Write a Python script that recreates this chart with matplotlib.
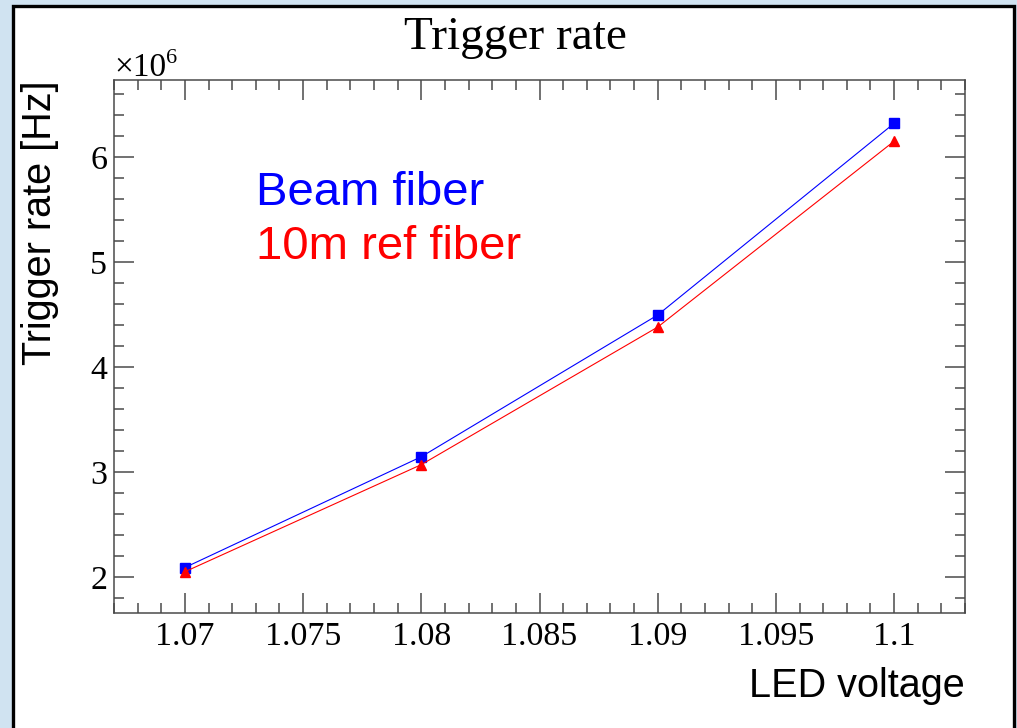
import numpy as np
import matplotlib.pyplot as plt
from matplotlib.patches import Rectangle
from matplotlib.ticker import MultipleLocator, FuncFormatter

# LED voltage scan, trigger rates
led_voltage = [1.07, 1.08, 1.09, 1.10]
beam_rate = [2.09e6, 3.145e6, 4.495e6, 6.32e6]
ref_rate = [2.05e6, 3.07e6, 4.38e6, 6.15e6]

SERIF = 'Liberation Serif'
SANS = 'Liberation Sans'

fig = plt.figure(figsize=(10.17, 7.28), dpi=100)
fig.patch.set_facecolor('#d0e3f1')

# white canvas with black frame (ROOT style)
W, H = 1017, 728
frame = Rectangle((12.5 / W, -0.05), (1014 - 12.5) / W, 1.05 - 6.5 / H,
                  transform=fig.transFigure, facecolor='white',
                  edgecolor='black', linewidth=2.4, zorder=-10)
fig.patches.append(frame)

ax = fig.add_axes([114 / W, 1 - 613 / H, (965 - 114) / W, (613 - 80) / H])
ax.set_facecolor('white')

ax.plot(led_voltage, beam_rate, color='blue', lw=0.8, marker='s', ms=7.6,
        mec='blue', mfc='blue', zorder=3)
ax.plot(led_voltage, ref_rate, color='red', lw=0.8, marker='^', ms=7.8,
        mec='red', mfc='red', zorder=3)

ax.set_xlim(1.067, 1.103)
ax.set_ylim(1.657e6, 6.733e6)

ax.xaxis.set_major_locator(MultipleLocator(0.005))
ax.xaxis.set_minor_locator(MultipleLocator(0.001))
ax.yaxis.set_major_locator(MultipleLocator(1e6))
ax.yaxis.set_minor_locator(MultipleLocator(2e5))
ax.xaxis.set_major_formatter(FuncFormatter(lambda v, p: f'{v:g}'))
ax.yaxis.set_major_formatter(FuncFormatter(lambda v, p: f'{v / 1e6:g}'))

spine_c = '#4a4a4a'
for s in ax.spines.values():
    s.set_color(spine_c)
    s.set_linewidth(1.1)
ax.tick_params(which='both', direction='in', top=True, right=True,
               color=spine_c, width=1.1)
ax.tick_params(which='major', length=14.5)
ax.tick_params(which='minor', length=7.5)
ax.tick_params(axis='x', which='major', pad=6)
ax.tick_params(axis='y', which='major', pad=5)
for lab in ax.get_xticklabels() + ax.get_yticklabels():
    lab.set_fontfamily(SERIF)
    lab.set_fontsize(24.5)

ax.set_xlabel('LED voltage', loc='right', fontsize=28.5, family=SANS, labelpad=11)
ax.set_ylabel('Trigger rate [Hz]', loc='top', fontsize=28.5, family=SANS, labelpad=22)

# exponent label like ROOT
fig.text(114 / W, 1 - 76 / H, '\u00d710', ha='left', va='baseline',
         fontsize=24, family=SERIF)
fig.text(166 / W, 1 - 63 / H, '6', ha='left', va='baseline',
         fontsize=16, family=SERIF)

fig.text(515 / W, 1 - 49 / H, 'Trigger rate', ha='center', va='baseline',
         fontsize=34, family=SERIF)

ax.text(256 / W, 1 - 205 / H, 'Beam fiber', transform=fig.transFigure,
        color='blue', fontsize=34, family=SANS, va='baseline', ha='left')
ax.text(256 / W, 1 - 259 / H, '10m ref fiber', transform=fig.transFigure,
        color='red', fontsize=34, family=SANS, va='baseline', ha='left')

fig.savefig('out.png', dpi=100, facecolor=fig.get_facecolor())
